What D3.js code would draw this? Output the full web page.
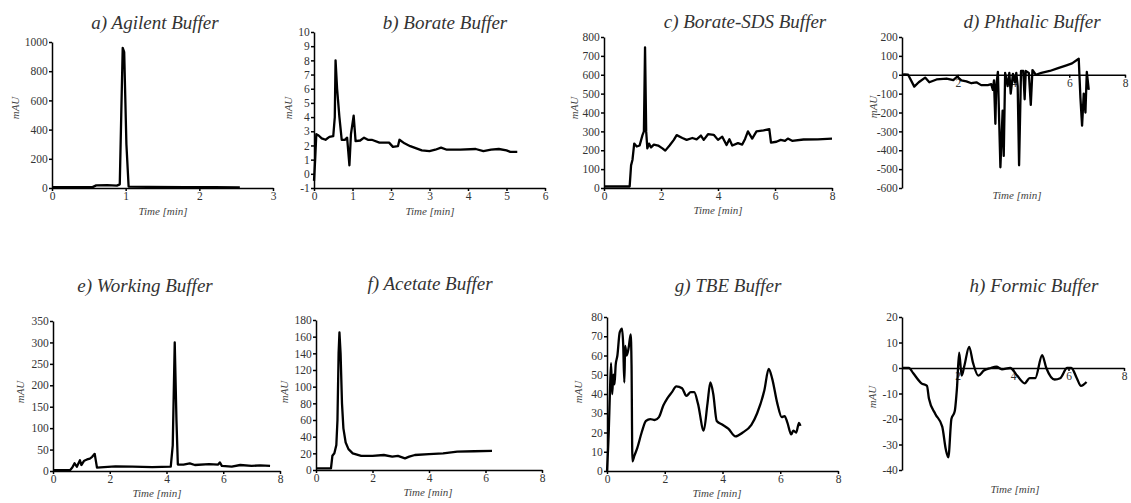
<!DOCTYPE html>
<html>
<head>
<meta charset="utf-8">
<script src="https://cdn.jsdelivr.net/npm/d3@7"></script>
<style>
  html, body { margin: 0; padding: 0; background: #fff; }
  svg { display: block; }
  .axis path, .axis line { stroke: #000; stroke-width: 1.5; }
  .title { font-family: "Liberation Serif", serif; font-style: italic; font-size: 19px; fill: #333; }
  .label { font-family: "Liberation Serif", serif; font-style: italic; font-size: 11px; fill: #444; }
  .trace { fill: none; stroke: #000; stroke-width: 2.3; stroke-linejoin: round; }
</style>
</head>
<body>
<svg id="chart" width="1131" height="503"></svg>
<script>
// ---- data (time [min], mAU) ----
const titles = ["a) Agilent Buffer", "b) Borate Buffer", "c) Borate-SDS Buffer", "d) Phthalic Buffer",
                "e) Working Buffer", "f) Acetate Buffer", "g) TBE Buffer", "h) Formic Buffer"];

const agilent = [[0,5],[0.3,5],[0.55,6],[0.6,18],[0.75,20],[0.88,16],[0.92,25],[0.94,500],[0.96,960],
  [0.98,930],[1.01,300],[1.04,10],[1.3,8],[1.8,6],[2.2,5],[2.55,4]];

const borate = [[0,-0.5],[0.03,1],[0.06,2.8],[0.12,2.7],[0.2,2.5],[0.3,2.4],[0.4,2.6],[0.5,2.65],[0.54,4],
  [0.56,8],[0.6,6],[0.66,4],[0.72,2.4],[0.8,2.4],[0.86,2.55],[0.92,0.6],[0.96,2.8],[1.03,4.1],[1.08,2.3],
  [1.2,2.35],[1.3,2.55],[1.4,2.4],[1.5,2.4],[1.7,2.2],[1.95,2.2],[2.05,1.9],[2.18,1.95],[2.22,2.4],
  [2.35,2.15],[2.5,1.95],[2.8,1.65],[3.0,1.6],[3.15,1.7],[3.3,1.85],[3.45,1.7],[3.8,1.7],[4.2,1.75],
  [4.4,1.6],[4.6,1.7],[4.8,1.75],[5.0,1.65],[5.1,1.55],[5.28,1.55]];

const borateSds = [[0,8],[0.5,8],[0.9,8],[0.95,120],[1.0,150],[1.06,235],[1.15,220],[1.25,225],[1.35,280],
  [1.4,300],[1.44,745],[1.48,300],[1.52,210],[1.58,235],[1.65,215],[1.75,230],[1.9,225],[2.05,210],
  [2.15,198],[2.3,225],[2.45,255],[2.55,280],[2.75,265],[2.9,255],[3.1,265],[3.25,258],[3.4,278],
  [3.5,255],[3.65,285],[3.85,282],[4.0,255],[4.15,272],[4.3,228],[4.4,258],[4.5,225],[4.7,238],
  [4.85,230],[4.95,260],[5.05,300],[5.2,262],[5.35,300],[5.6,305],[5.8,312],[5.86,240],[6.05,245],
  [6.2,255],[6.35,250],[6.45,262],[6.6,250],[7.0,257],[7.5,258],[8.0,262]];

const phthalic = [[0,0],[0.1,2],[0.22,0],[0.44,-63],[0.6,-40],[0.83,-15],[0.98,-40],[1.24,-25],[1.6,-20],
  [1.84,-28],[1.98,-10],[2.13,-30],[2.31,-35],[2.49,-45],[2.67,-40],[2.84,-55],[3.08,-55],[3.2,-50],
  [3.26,-80],[3.3,-30],[3.35,-260],[3.38,-60],[3.44,15],[3.53,-490],[3.61,-190],[3.65,-430],[3.7,10],
  [3.79,-60],[3.85,10],[3.9,-100],[3.98,5],[4.05,-40],[4.1,10],[4.15,-60],[4.2,-480],[4.27,20],
  [4.35,20],[4.4,-130],[4.44,20],[4.55,10],[4.62,-160],[4.68,25],[4.8,0],[5.0,10],[5.3,20],[5.6,35],
  [5.9,50],[6.1,60],[6.34,85],[6.4,-120],[6.46,-270],[6.52,-100],[6.58,-200],[6.63,15],[6.7,-80]];

const working = [[0,2],[0.6,2],[0.68,8],[0.76,18],[0.84,10],[0.95,25],[1.0,14],[1.1,24],[1.2,27],[1.3,29],
  [1.38,33],[1.47,40],[1.55,8],[1.8,9],[2.2,11],[2.8,10],[3.5,9],[4.15,10],[4.22,60],[4.29,300],
  [4.35,120],[4.4,15],[4.6,15],[4.82,18],[5.0,14],[5.5,16],[5.82,15],[5.88,20],[5.95,12],[6.3,10],
  [6.6,14],[7.0,12],[7.3,13],[7.65,12]];

const acetate = [[0,2],[0.53,2],[0.58,17],[0.65,20],[0.72,30],[0.76,60],[0.8,140],[0.83,165],[0.87,140],
  [0.92,80],[0.97,50],[1.05,33],[1.15,25],[1.3,20],[1.6,17],[2.0,17],[2.4,18],[2.7,16],[2.9,17],
  [3.15,14],[3.3,16],[3.5,18],[4.0,19],[4.5,20],[5.0,22],[5.6,22.5],[6.23,23]];

const tbe = [[0,0],[0.06,20],[0.1,40],[0.14,56],[0.18,40],[0.22,50],[0.26,45],[0.3,55],[0.36,60],[0.44,72],
  [0.52,74],[0.56,66],[0.6,46],[0.63,65],[0.68,60],[0.75,64],[0.82,71],[0.85,55],[0.88,5],[0.95,8],
  [1.05,12],[1.2,20],[1.35,26],[1.5,27],[1.65,26.5],[1.8,28],[1.95,34],[2.1,38],[2.25,41],[2.4,44],
  [2.6,43],[2.75,39],[2.9,41],[3.02,41],[3.15,35],[3.35,21],[3.48,35],[3.58,46],[3.68,40],[3.8,26],
  [4.0,24],[4.2,22],[4.45,18],[4.7,20],[5.0,24],[5.2,30],[5.45,42],[5.6,53],[5.72,48],[5.9,35],
  [6.05,28],[6.15,28.5],[6.25,25],[6.38,19],[6.45,21],[6.55,20],[6.65,25],[6.7,23.5]];

const formic = [[0,0],[0.25,0],[0.4,-2],[0.7,-6],[0.9,-7],[0.97,-12],[1.2,-18],[1.45,-23],[1.58,-32],
  [1.67,-35],[1.78,-20],[1.9,-17],[1.98,-8],[2.06,6],[2.15,-3],[2.25,1],[2.42,8.3],[2.56,2],[2.75,-3],
  [2.95,-1],[3.2,0],[3.4,0.5],[3.6,-0.5],[3.9,0],[4.15,-3],[4.42,-6],[4.6,-4],[4.8,-4],[5.05,5],
  [5.2,0],[5.5,-4.5],[5.7,-4],[5.95,0],[6.1,0],[6.3,-4],[6.45,-7],[6.65,-5.5]];

// tick values
const aXTicks = [0, 1, 2, 3], aYTicks = [0, 200, 400, 600, 800, 1000];
const bXTicks = [0, 1, 2, 3, 4, 5, 6], bYTicks = [-1, 0, 1, 2, 3, 4, 5, 6, 7, 8, 9, 10];
const cXTicks = [0, 2, 4, 6, 8], cYTicks = [0, 100, 200, 300, 400, 500, 600, 700, 800];
const dXTicks = [2, 4, 6, 8], dYTicks = [-600, -500, -400, -300, -200, -100, 0, 100, 200];
const eXTicks = [0, 2, 4, 6, 8], eYTicks = [0, 50, 100, 150, 200, 250, 300, 350];
const fXTicks = [0, 2, 4, 6, 8], fYTicks = [0, 20, 40, 60, 80, 100, 120, 140, 160, 180];
const gXTicks = [0, 2, 4, 6, 8], gYTicks = [0, 10, 20, 30, 40, 50, 60, 70, 80];
const hXTicks = [2, 4, 6, 8], hYTicks = [-40, -30, -20, -10, 0, 10, 20];

// ---- layout ----
const svg = d3.select("#chart");
const SERIF = '"Liberation Serif", "Times New Roman", serif';

const panels = [
  { data: agilent, xt: aXTicks, yt: aYTicks, xMax: 3, box: [52, 273, 42, 188], t: [155, 29], m: [15, 108], tm: [163, 215] },
  { data: borate, xt: bXTicks, yt: bYTicks, xMax: 6, box: [314, 545, 32, 188], t: [445, 29], m: [288, 108], tm: [430, 215] },
  { data: borateSds, xt: cXTicks, yt: cYTicks, xMax: 8, box: [604, 832, 37, 188], t: [745, 28], m: [574, 108], tm: [718, 214] },
  { data: phthalic, xt: dXTicks, yt: dYTicks, xMax: 8, box: [902, 1125, 37, 188], t: [1032, 28], m: [873, 107], tm: [1017, 199], zeroAxis: true },
  { data: working, xt: eXTicks, yt: eYTicks, xMax: 8, box: [53, 280, 321, 471], t: [145, 292], m: [20, 392], tm: [157, 497] },
  { data: acetate, xt: fXTicks, yt: fYTicks, xMax: 8, box: [316, 542, 320, 470], t: [430, 290], m: [284, 392], tm: [428, 496] },
  { data: tbe, xt: gXTicks, yt: gYTicks, xMax: 8, box: [607, 838, 317, 471], t: [728, 292], m: [578, 392], tm: [717, 497], smooth: true },
  { data: formic, xt: hXTicks, yt: hYTicks, xMax: 8, box: [902, 1124, 317, 470], t: [1034, 292], m: [872, 397], tm: [1015, 493], zeroAxis: true, smooth: true }
];

function styleTicks(s) {
  s.attr("font-family", SERIF).attr("font-size", 11.5);
  s.selectAll(".tick text").attr("fill", "#333");
}

panels.forEach((p, i) => {
  const [left, right, top, bottom] = p.box;
  const x = d3.scaleLinear().domain([0, p.xMax]).range([left, right]);
  const y = d3.scaleLinear().domain(d3.extent(p.yt)).range([bottom, top]);
  const g = svg.append("g");

  // y axis
  g.append("g").attr("class", "axis")
    .attr("transform", `translate(${left},0)`)
    .call(d3.axisLeft(y).tickValues(p.yt).tickSize(3).tickSizeOuter(0).tickFormat(d => String(d)))
    .call(styleTicks)
    .call(s => s.selectAll("text").attr("dx", "0.15em"));

  // x axis, on zero line for panels with negative values
  const xAxisY = p.zeroAxis ? y(0) : bottom;
  g.append("g").attr("class", "axis")
    .attr("transform", `translate(0,${xAxisY})`)
    .call(d3.axisBottom(x).tickValues(p.xt).tickSize(3).tickSizeOuter(0).tickFormat(d => String(d)))
    .call(styleTicks)
    .call(s => s.selectAll("text").attr("dy", "0.55em"));

  // trace
  const line = d3.line()
    .x(d => x(d[0]))
    .y(d => y(d[1]))
    .curve(p.smooth ? d3.curveMonotoneX : d3.curveLinear);
  g.append("path").attr("class", "trace").attr("d", line(p.data));

  // texts
  g.append("text").attr("class", "title")
    .attr("x", p.t[0]).attr("y", p.t[1]).attr("text-anchor", "middle").text(titles[i]);
  g.append("text").attr("class", "label")
    .attr("transform", `translate(${p.m[0]},${p.m[1]}) rotate(-90)`)
    .attr("text-anchor", "middle").attr("dy", "0.35em").text("mAU");
  g.append("text").attr("class", "label")
    .attr("x", p.tm[0]).attr("y", p.tm[1]).attr("text-anchor", "middle").text("Time [min]");
});
</script>
</body>
</html>
